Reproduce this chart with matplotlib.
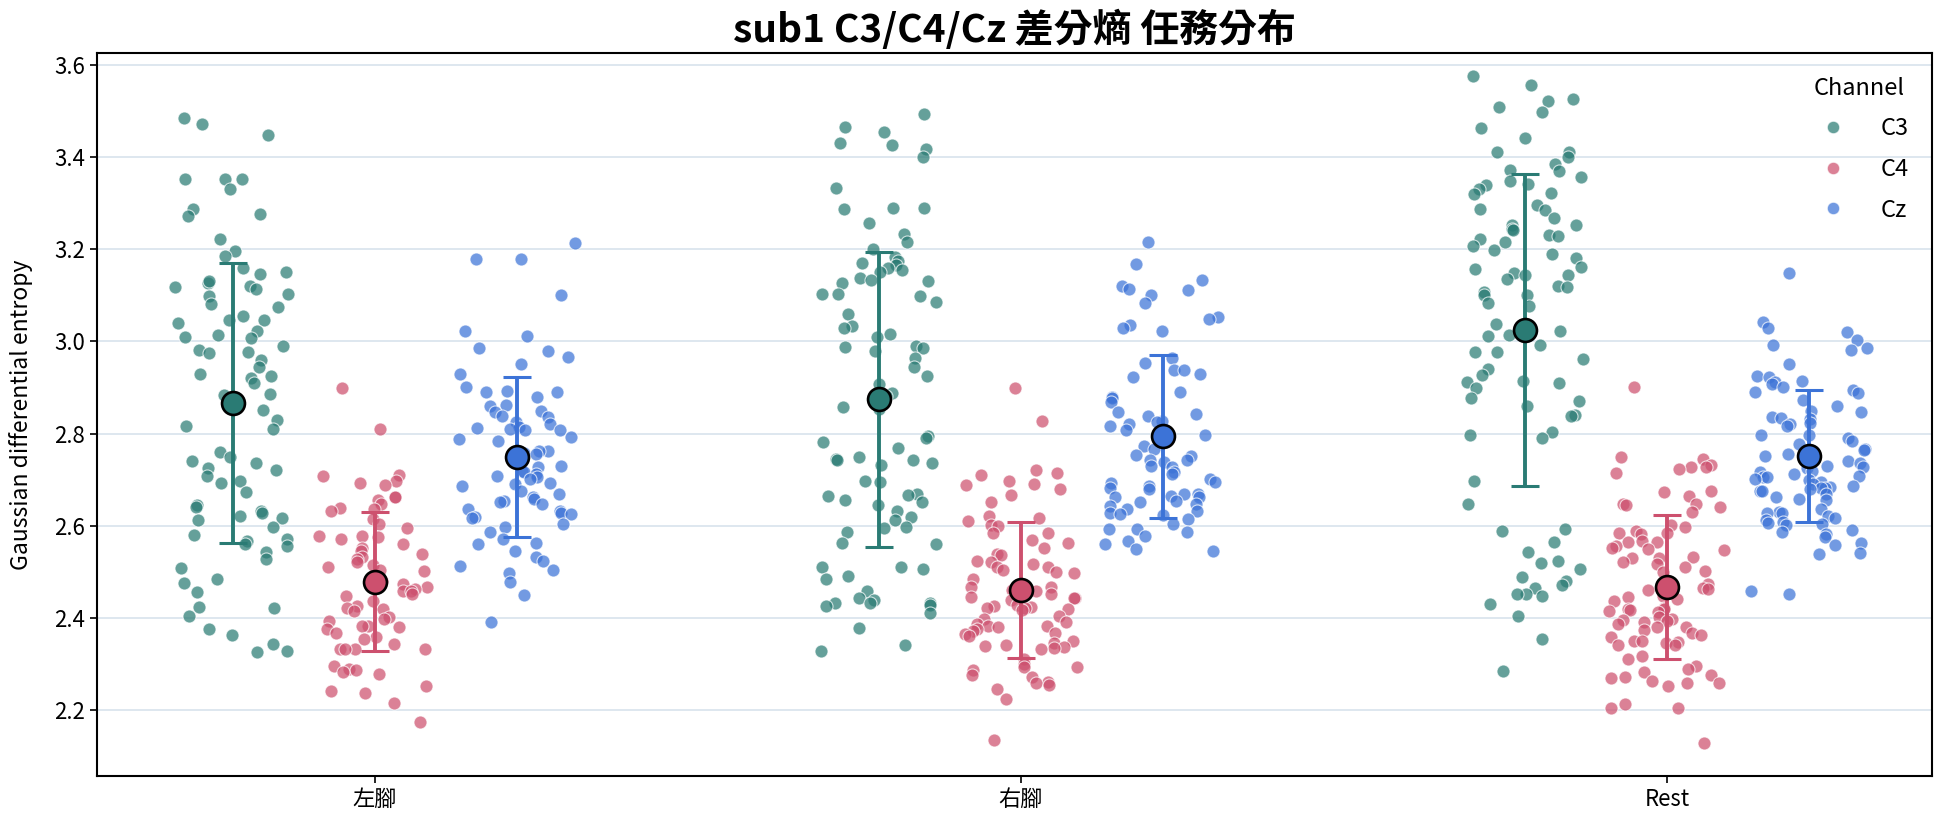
import numpy as np
import matplotlib
matplotlib.use("Agg")
import matplotlib.pyplot as plt
from matplotlib.lines import Line2D

plt.rcParams['font.family'] = ['Noto Sans CJK TC', 'DejaVu Sans']

tasks = ['左腳', '右腳', 'Rest']
channels = ['C3', 'C4', 'Cz']
colors = {'C3': '#2A7B74', 'C4': '#CD506E', 'Cz': '#3C73D7'}

left_C3 = [3.485, 3.472, 3.447, 3.351, 3.352, 3.351, 3.330, 3.286, 3.277, 3.272, 3.222, 3.196, 3.184,
           3.158, 3.146, 3.150, 3.126, 3.119, 3.114, 3.130, 3.118, 3.102, 3.098, 3.082, 3.075, 3.054,
           3.046, 3.046, 3.039, 3.023, 3.013, 3.009, 3.007, 2.989, 2.981, 2.977, 2.975, 2.959, 2.945,
           2.929, 2.925, 2.921, 2.909, 2.885, 2.884, 2.851, 2.829, 2.817, 2.809, 2.761, 2.749, 2.741,
           2.737, 2.725, 2.721, 2.709, 2.697, 2.693, 2.673, 2.645, 2.641, 2.633, 2.629, 2.621, 2.617,
           2.613, 2.597, 2.580, 2.572, 2.568, 2.560, 2.556, 2.544, 2.528, 2.508, 2.484, 2.476, 2.456,
           2.424, 2.422, 2.404, 2.376, 2.364, 2.344, 2.328, 2.326]
left_C4 = [2.900, 2.809, 2.711, 2.708, 2.697, 2.693, 2.688, 2.662, 2.662, 2.657, 2.647, 2.639, 2.636,
           2.632, 2.616, 2.605, 2.596, 2.578, 2.578, 2.576, 2.571, 2.560, 2.553, 2.546, 2.539, 2.532,
           2.528, 2.521, 2.516, 2.510, 2.504, 2.503, 2.481, 2.475, 2.467, 2.463, 2.459, 2.459, 2.452,
           2.449, 2.438, 2.427, 2.423, 2.420, 2.415, 2.402, 2.398, 2.395, 2.384, 2.384, 2.380, 2.377,
           2.369, 2.359, 2.355, 2.344, 2.333, 2.333, 2.333, 2.333, 2.297, 2.290, 2.287, 2.283, 2.279,
           2.254, 2.243, 2.238, 2.216, 2.174]
left_Cz = [3.214, 3.178, 3.178, 3.100, 3.022, 3.011, 2.986, 2.980, 2.966, 2.950, 2.930, 2.901, 2.893,
           2.890, 2.890, 2.879, 2.863, 2.859, 2.850, 2.846, 2.839, 2.836, 2.825, 2.821, 2.815, 2.812,
           2.810, 2.808, 2.807, 2.792, 2.788, 2.785, 2.763, 2.763, 2.759, 2.756, 2.730, 2.727, 2.718,
           2.716, 2.712, 2.709, 2.705, 2.701, 2.694, 2.691, 2.687, 2.676, 2.669, 2.662, 2.658, 2.654,
           2.651, 2.647, 2.636, 2.633, 2.629, 2.625, 2.620, 2.618, 2.604, 2.598, 2.586, 2.571, 2.562,
           2.560, 2.546, 2.533, 2.525, 2.513, 2.504, 2.499, 2.479, 2.450, 2.392]
right_C3 = [3.493, 3.464, 3.453, 3.430, 3.426, 3.418, 3.400, 3.333, 3.290, 3.288, 3.286, 3.256, 3.232,
            3.216, 3.200, 3.183, 3.175, 3.170, 3.166, 3.158, 3.154, 3.151, 3.138, 3.134, 3.130, 3.126,
            3.103, 3.103, 3.098, 3.086, 3.059, 3.034, 3.030, 3.017, 3.009, 2.989, 2.988, 2.985, 2.980,
            2.965, 2.945, 2.925, 2.908, 2.889, 2.881, 2.857, 2.853, 2.795, 2.791, 2.781, 2.769, 2.749,
            2.745, 2.742, 2.742, 2.737, 2.733, 2.697, 2.695, 2.670, 2.667, 2.665, 2.657, 2.651, 2.646,
            2.633, 2.619, 2.613, 2.598, 2.596, 2.587, 2.564, 2.560, 2.512, 2.510, 2.507, 2.492, 2.484,
            2.460, 2.444, 2.440, 2.434, 2.432, 2.432, 2.428, 2.426, 2.412, 2.378, 2.341, 2.330]
right_C4 = [2.899, 2.827, 2.722, 2.715, 2.711, 2.698, 2.691, 2.688, 2.679, 2.666, 2.652, 2.621, 2.618,
            2.611, 2.603, 2.600, 2.585, 2.585, 2.569, 2.564, 2.553, 2.540, 2.537, 2.524, 2.521, 2.517,
            2.511, 2.510, 2.504, 2.501, 2.499, 2.485, 2.467, 2.467, 2.463, 2.461, 2.459, 2.452, 2.445,
            2.444, 2.444, 2.439, 2.429, 2.427, 2.425, 2.423, 2.422, 2.420, 2.418, 2.405, 2.398, 2.391,
            2.387, 2.384, 2.384, 2.380, 2.377, 2.373, 2.369, 2.366, 2.362, 2.351, 2.346, 2.341, 2.339,
            2.337, 2.336, 2.333, 2.312, 2.301, 2.295, 2.294, 2.287, 2.276, 2.272, 2.261, 2.259, 2.256,
            2.247, 2.225, 2.135]
right_Cz = [3.215, 3.167, 3.134, 3.120, 3.114, 3.111, 3.100, 3.083, 3.053, 3.049, 3.035, 3.030, 3.022,
            2.964, 2.953, 2.938, 2.937, 2.930, 2.922, 2.890, 2.880, 2.878, 2.868, 2.846, 2.843, 2.839,
            2.827, 2.825, 2.821, 2.817, 2.807, 2.796, 2.774, 2.767, 2.754, 2.752, 2.743, 2.743, 2.738,
            2.730, 2.727, 2.716, 2.712, 2.701, 2.696, 2.694, 2.687, 2.683, 2.680, 2.670, 2.669, 2.665,
            2.663, 2.662, 2.654, 2.651, 2.647, 2.643, 2.636, 2.633, 2.629, 2.625, 2.624, 2.614, 2.605,
            2.593, 2.593, 2.586, 2.578, 2.567, 2.560, 2.549, 2.546]
rest_C3 = [3.576, 3.556, 3.526, 3.520, 3.509, 3.498, 3.463, 3.441, 3.410, 3.410, 3.399, 3.385, 3.372,
           3.370, 3.356, 3.348, 3.340, 3.339, 3.330, 3.321, 3.319, 3.296, 3.287, 3.284, 3.268, 3.252,
           3.252, 3.243, 3.241, 3.231, 3.228, 3.222, 3.216, 3.206, 3.199, 3.190, 3.181, 3.162, 3.157,
           3.148, 3.144, 3.144, 3.135, 3.119, 3.117, 3.108, 3.101, 3.100, 3.084, 3.077, 3.038, 3.022,
           3.013, 3.011, 2.993, 2.977, 2.976, 2.962, 2.940, 2.927, 2.915, 2.912, 2.909, 2.900, 2.878,
           2.871, 2.859, 2.841, 2.838, 2.803, 2.798, 2.790, 2.698, 2.648, 2.593, 2.590, 2.566, 2.543,
           2.523, 2.519, 2.506, 2.490, 2.480, 2.472, 2.466, 2.453, 2.453, 2.449, 2.431, 2.404, 2.354,
           2.286]
rest_C4 = [2.902, 2.749, 2.746, 2.733, 2.727, 2.727, 2.724, 2.715, 2.675, 2.674, 2.665, 2.648, 2.647,
           2.645, 2.641, 2.631, 2.603, 2.597, 2.588, 2.585, 2.585, 2.583, 2.567, 2.566, 2.566, 2.557,
           2.553, 2.549, 2.547, 2.533, 2.531, 2.530, 2.521, 2.517, 2.512, 2.503, 2.501, 2.474, 2.465,
           2.463, 2.461, 2.449, 2.445, 2.441, 2.438, 2.423, 2.420, 2.420, 2.418, 2.416, 2.413, 2.402,
           2.398, 2.396, 2.395, 2.391, 2.387, 2.382, 2.380, 2.374, 2.369, 2.364, 2.360, 2.351, 2.350,
           2.348, 2.346, 2.343, 2.341, 2.319, 2.312, 2.297, 2.290, 2.283, 2.276, 2.272, 2.271, 2.264,
           2.259, 2.259, 2.252, 2.213, 2.206, 2.206, 2.130]
rest_Cz = [3.149, 3.042, 3.030, 3.020, 3.004, 2.993, 2.986, 2.982, 2.950, 2.926, 2.922, 2.915, 2.912,
           2.908, 2.901, 2.895, 2.890, 2.888, 2.872, 2.859, 2.849, 2.847, 2.836, 2.834, 2.832, 2.822,
           2.820, 2.817, 2.798, 2.796, 2.791, 2.785, 2.778, 2.767, 2.764, 2.756, 2.752, 2.741, 2.736,
           2.730, 2.727, 2.725, 2.720, 2.716, 2.712, 2.709, 2.705, 2.705, 2.701, 2.699, 2.696, 2.691,
           2.687, 2.685, 2.683, 2.682, 2.680, 2.676, 2.675, 2.670, 2.663, 2.658, 2.656, 2.636, 2.631,
           2.629, 2.627, 2.622, 2.618, 2.612, 2.609, 2.607, 2.605, 2.602, 2.591, 2.586, 2.583, 2.576,
           2.564, 2.559, 2.542, 2.540, 2.459, 2.452]

data = {
    ('左腳', 'C3'): left_C3, ('左腳', 'C4'): left_C4, ('左腳', 'Cz'): left_Cz,
    ('右腳', 'C3'): right_C3, ('右腳', 'C4'): right_C4, ('右腳', 'Cz'): right_Cz,
    ('Rest', 'C3'): rest_C3, ('Rest', 'C4'): rest_C4, ('Rest', 'Cz'): rest_Cz,
}

W, H, DPI = 1944, 827, 100
fig = plt.figure(figsize=(W / DPI, H / DPI), dpi=DPI)
ax = fig.add_axes([97 / W, 1 - 776 / H, (1932 - 97) / W, (776 - 53) / H])

rng = np.random.default_rng(3)
offsets = {'C3': -0.22, 'C4': 0.0, 'Cz': 0.22}
for i, t in enumerate(tasks):
    for ch in channels:
        vals = np.asarray(data[(t, ch)])
        xc = i + offsets[ch]
        jit = rng.uniform(-0.09, 0.09, size=len(vals))
        ax.scatter(xc + jit, vals, s=88, color=colors[ch], alpha=0.72,
                   edgecolors='white', linewidths=0.8, zorder=3)
        m = vals.mean()
        sd = vals.std(ddof=1)
        ax.errorbar([xc], [m], yerr=[sd], fmt='none', ecolor=colors[ch],
                    elinewidth=2.8, capsize=10, capthick=2.2, zorder=4)
        ax.plot([xc], [m], marker='o', markersize=16.5, markerfacecolor=colors[ch],
                markeredgecolor='black', markeredgewidth=1.9, zorder=5, linestyle='none')

ax.set_xlim(-0.43, 2.41)
ax.set_ylim(2.058, 3.625)
ax.set_xticks(range(len(tasks)))
ax.set_xticklabels(tasks)
ax.set_yticks([2.2, 2.4, 2.6, 2.8, 3.0, 3.2, 3.4, 3.6])
ax.set_yticklabels(['2.2', '2.4', '2.6', '2.8', '3.0', '3.2', '3.4', '3.6'])
ax.yaxis.grid(True, color='#dbe5ee', linewidth=1.3, zorder=0)
ax.set_axisbelow(True)
ax.tick_params(axis='both', labelsize=16, length=5, width=1.2)
for sp in ax.spines.values():
    sp.set_linewidth(1.5)
    sp.set_color('black')
ax.set_ylabel('Gaussian differential entropy', fontsize=16.5, labelpad=15)
ax.set_title('sub1 C3/C4/Cz 差分熵 任務分布', fontsize=28, fontweight='bold', pad=8)

handles = [Line2D([0], [0], marker='o', linestyle='none', markersize=9,
                  markerfacecolor=colors[ch], markeredgecolor='white', alpha=0.72,
                  markeredgewidth=0.8) for ch in channels]
leg = ax.legend(handles, channels, title='Channel', loc='upper right', frameon=False,
                fontsize=17, title_fontsize=17, handletextpad=1.0, labelspacing=0.75,
                borderaxespad=0.6)

fig.savefig('out.png', dpi=DPI)
